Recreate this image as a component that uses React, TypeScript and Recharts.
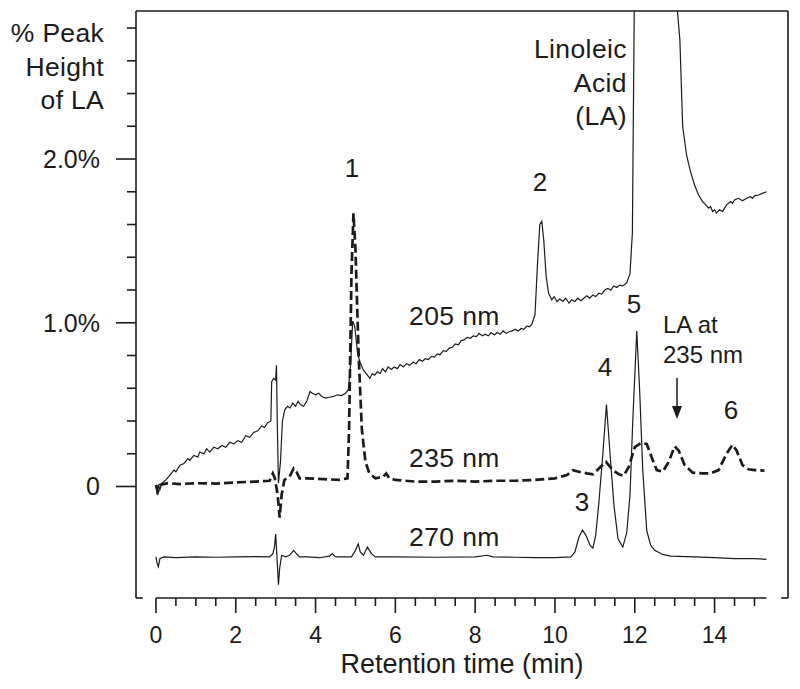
import React from 'react';
import { LineChart, Line, XAxis, YAxis, ReferenceLine } from 'recharts';

const ink = '#1b1b1b';
const font = '"Liberation Sans", Arial, Helvetica, sans-serif';

// plot frame limits (min, % of LA peak height)
const xMin = -0.5;
const xMax = 15.84;
const yMin = -0.681;
const yMax = 2.904;

const xTicks = [0, 0.5, 1, 1.5, 2, 2.5, 3, 3.5, 4, 4.5, 5, 5.5, 6, 6.5, 7, 7.5, 8, 8.5, 9, 9.5, 10, 10.5, 11, 11.5, 12, 12.5, 13, 13.5, 14, 14.5, 15];
const yTicks = [0, 0.2, 0.4, 0.6, 0.8, 1, 1.2, 1.4, 1.6, 1.8, 2, 2.2, 2.4, 2.6, 2.8];
const yTickLabels: Record<string, string> = { '0': '0', '1': '1.0%', '2': '2.0%' };

// [time, value]
const trace205: [number, number][] = [
  [0, 0], [0.03, -0.05], [0.06, 0.01], [0.1, -0.02], [0.15, 0.02], [0.25, 0.04], [0.35, 0.07],
  [0.45, 0.1], [0.5, 0.09], [0.6, 0.13], [0.7, 0.14], [0.8, 0.17], [0.85, 0.16], [0.95, 0.19],
  [1.05, 0.18], [1.1, 0.21], [1.2, 0.2], [1.27, 0.23], [1.35, 0.21], [1.45, 0.24], [1.55, 0.23],
  [1.65, 0.25], [1.75, 0.24], [1.85, 0.27], [1.95, 0.26], [2.05, 0.28], [2.15, 0.27], [2.25, 0.31],
  [2.35, 0.3], [2.45, 0.33], [2.55, 0.34], [2.65, 0.37], [2.72, 0.36], [2.8, 0.39], [2.88, 0.4],
  [2.9, 0.64], [2.95, 0.66], [3.0, 0.65], [3.02, 0.74], [3.04, 0.4], [3.07, 0.02], [3.12, 0.15],
  [3.17, 0.4], [3.23, 0.47], [3.3, 0.49], [3.36, 0.48], [3.43, 0.51], [3.5, 0.49], [3.56, 0.52],
  [3.62, 0.5], [3.7, 0.49], [3.78, 0.52], [3.86, 0.58], [3.92, 0.57], [4.0, 0.56], [4.08, 0.57],
  [4.15, 0.55], [4.25, 0.54], [4.35, 0.545], [4.45, 0.55], [4.55, 0.56], [4.65, 0.555], [4.75, 0.57],
  [4.82, 0.59], [4.88, 0.75], [4.93, 1.01], [4.98, 0.98], [5.05, 0.82], [5.11, 0.76], [5.2, 0.71],
  [5.3, 0.68], [5.36, 0.66], [5.42, 0.69], [5.48, 0.68], [5.55, 0.7], [5.62, 0.69], [5.68, 0.72],
  [5.75, 0.7], [5.82, 0.73], [5.9, 0.715], [5.97, 0.73], [6.05, 0.72], [6.12, 0.745], [6.2, 0.73],
  [6.28, 0.75], [6.36, 0.74], [6.45, 0.76], [6.52, 0.75], [6.6, 0.775], [6.68, 0.765], [6.75, 0.78],
  [6.83, 0.775], [6.9, 0.795], [6.98, 0.79], [7.05, 0.81], [7.12, 0.805], [7.2, 0.83], [7.28, 0.825],
  [7.35, 0.845], [7.43, 0.85], [7.5, 0.87], [7.58, 0.865], [7.65, 0.89], [7.72, 0.895], [7.8, 0.91],
  [7.88, 0.905], [7.95, 0.92], [8.03, 0.915], [8.1, 0.935], [8.18, 0.92], [8.25, 0.93], [8.33, 0.92],
  [8.4, 0.94], [8.48, 0.925], [8.55, 0.94], [8.63, 0.93], [8.7, 0.95], [8.78, 0.935], [8.85, 0.945],
  [8.93, 0.95], [9.0, 0.96], [9.08, 0.95], [9.15, 0.965], [9.22, 0.96], [9.3, 0.98], [9.36, 0.975],
  [9.42, 0.99], [9.5, 1.05], [9.56, 1.35], [9.62, 1.6], [9.67, 1.62], [9.72, 1.5], [9.78, 1.28],
  [9.84, 1.18], [9.92, 1.14], [9.98, 1.16], [10.05, 1.13], [10.12, 1.145], [10.2, 1.13], [10.27, 1.15],
  [10.35, 1.12], [10.42, 1.14], [10.5, 1.13], [10.57, 1.15], [10.65, 1.135], [10.72, 1.15],
  [10.8, 1.165], [10.87, 1.15], [10.95, 1.17], [11.02, 1.16], [11.1, 1.18], [11.17, 1.175],
  [11.25, 1.2], [11.32, 1.21], [11.4, 1.2], [11.47, 1.225], [11.55, 1.215], [11.62, 1.23],
  [11.7, 1.225], [11.8, 1.245], [11.88, 1.3], [11.94, 1.55], [12.0, 3.3], [12.5, 40],
  [13.0, 3.1], [13.13, 2.73], [13.2, 2.2], [13.3, 2.02], [13.4, 1.92], [13.5, 1.84], [13.6, 1.78],
  [13.7, 1.74], [13.78, 1.72], [13.85, 1.7], [13.9, 1.71], [13.95, 1.68], [14.0, 1.69], [14.05, 1.67],
  [14.12, 1.69], [14.2, 1.68], [14.3, 1.72], [14.4, 1.74], [14.45, 1.73], [14.5, 1.75], [14.6, 1.76],
  [14.7, 1.745], [14.8, 1.76], [14.9, 1.77], [14.95, 1.76], [15.0, 1.775], [15.1, 1.78],
  [15.2, 1.79], [15.3, 1.8],
];

const trace235: [number, number][] = [
  [0, 0.01], [0.05, -0.03], [0.1, 0.01], [0.3, 0.02], [0.6, 0.015], [1.0, 0.02], [1.5, 0.018],
  [2.0, 0.025], [2.5, 0.03], [2.85, 0.035], [2.93, 0.08], [2.98, 0.05], [3.05, -0.05], [3.1, -0.19],
  [3.15, -0.05], [3.22, 0.04], [3.35, 0.06], [3.45, 0.11], [3.52, 0.09], [3.6, 0.05], [3.8, 0.05],
  [4.2, 0.045], [4.6, 0.04], [4.8, 0.05], [4.84, 0.35], [4.9, 1.3], [4.95, 1.668], [5.0, 1.45],
  [5.08, 0.8], [5.16, 0.35], [5.25, 0.15], [5.35, 0.08], [5.5, 0.05], [5.7, 0.06], [5.77, 0.08],
  [5.85, 0.05], [6.0, 0.04], [6.5, 0.03], [7.0, 0.03], [7.5, 0.035], [8.0, 0.03], [8.5, 0.035],
  [9.0, 0.035], [9.5, 0.04], [10.0, 0.05], [10.3, 0.07], [10.45, 0.1], [10.6, 0.09], [10.8, 0.08],
  [10.95, 0.075], [11.1, 0.11], [11.28, 0.15], [11.45, 0.1], [11.6, 0.075], [11.72, 0.065],
  [11.85, 0.12], [12.0, 0.24], [12.15, 0.265], [12.3, 0.26], [12.42, 0.18], [12.55, 0.1],
  [12.7, 0.09], [12.85, 0.15], [13.0, 0.245], [13.1, 0.22], [13.25, 0.13], [13.45, 0.085],
  [13.7, 0.08], [13.9, 0.08], [14.1, 0.1], [14.3, 0.2], [14.45, 0.255], [14.55, 0.22], [14.7, 0.13],
  [14.85, 0.105], [15.0, 0.1], [15.25, 0.097],
];

const trace270: [number, number][] = [
  [0, -0.43], [0.03, -0.47], [0.06, -0.49], [0.1, -0.44], [0.2, -0.43], [0.5, -0.435], [1.0, -0.43],
  [1.5, -0.432], [2.0, -0.43], [2.5, -0.428], [2.85, -0.43], [2.93, -0.41], [2.97, -0.37], [3.0, -0.29],
  [3.03, -0.42], [3.07, -0.6], [3.1, -0.5], [3.15, -0.42], [3.25, -0.43], [3.35, -0.42], [3.45, -0.39],
  [3.52, -0.41], [3.6, -0.43], [3.8, -0.43], [4.1, -0.435], [4.35, -0.425], [4.42, -0.41], [4.5, -0.43],
  [4.9, -0.43], [5.0, -0.39], [5.07, -0.35], [5.12, -0.4], [5.2, -0.42], [5.3, -0.37], [5.4, -0.41],
  [5.5, -0.43], [6.0, -0.43], [7.0, -0.432], [8.0, -0.43], [8.3, -0.42], [8.45, -0.43], [9.0, -0.432],
  [9.5, -0.435], [10.0, -0.435], [10.4, -0.43], [10.5, -0.4], [10.6, -0.31], [10.69, -0.266],
  [10.78, -0.3], [10.88, -0.36], [10.95, -0.376], [11.02, -0.3], [11.1, -0.1], [11.2, 0.2],
  [11.29, 0.5], [11.38, 0.2], [11.48, -0.12], [11.58, -0.32], [11.7, -0.37], [11.8, -0.28],
  [11.88, -0.05], [11.95, 0.4], [12.05, 0.95], [12.12, 0.6], [12.2, 0.1], [12.3, -0.27], [12.4, -0.36],
  [12.5, -0.39], [12.7, -0.415], [12.9, -0.425], [13.5, -0.43], [14.0, -0.435], [14.5, -0.44],
  [15.0, -0.44], [15.3, -0.445],
];

const toRows = (pts: [number, number][]) => pts.map(([t, v]) => ({ t, v }));

const XTick = ({ x, y, payload }: any) => {
  const v = payload.value;
  const major = Math.abs(v % 2) < 1e-6;
  return (
    <g>
      <line x1={x} x2={x} y1={y} y2={y + (major ? 15 : 8)} stroke={ink} strokeWidth={1.6} />
      {major && (
        <text x={x} y={y + 45} textAnchor="middle" fontSize={23} fontFamily={font} fill={ink}>
          {v}
        </text>
      )}
    </g>
  );
};

const YTick = ({ x, y, payload }: any) => {
  const v = payload.value;
  const major = Math.abs(v - Math.round(v)) < 1e-6;
  return (
    <g>
      <line x1={x - (major ? 20 : 9)} x2={x} y1={y} y2={y} stroke={ink} strokeWidth={1.6} />
      {major && (
        <text x={x - 36} y={y + 9} textAnchor="end" fontSize={25} fontFamily={font} fill={ink}>
          {yTickLabels[String(Math.round(v))]}
        </text>
      )}
    </g>
  );
};

const txt = { fontFamily: font, fill: ink } as const;

export default function App() {
  return (
    <div style={{ position: 'relative', width: 800, height: 689, margin: -8, background: '#fff' }}>
      <LineChart width={800} height={689} margin={{ top: 11, right: 12, left: 0, bottom: 0 }}>
        <XAxis
          type="number"
          dataKey="t"
          domain={[xMin, xMax]}
          allowDataOverflow
          ticks={xTicks}
          interval={0}
          height={91}
          axisLine={false}
          tickLine={false}
          tickSize={0}
          tickMargin={0}
          tick={<XTick />}
        />
        <YAxis
          type="number"
          domain={[yMin, yMax]}
          allowDataOverflow
          ticks={yTicks}
          interval={0}
          width={136}
          axisLine={{ stroke: ink, strokeWidth: 1.6 }}
          tickLine={false}
          tickSize={0}
          tickMargin={0}
          tick={<YTick />}
        />
        {/* frame: top, right, bottom axis line and corner stubs */}
        <ReferenceLine y={yMax} stroke={ink} strokeWidth={1.6} ifOverflow="visible" />
        <ReferenceLine x={xMax} stroke={ink} strokeWidth={1.6} ifOverflow="visible" />
        <ReferenceLine segment={[{ x: 0, y: yMin }, { x: 15.3, y: yMin }]} stroke={ink} strokeWidth={1.6} ifOverflow="visible" />
        <ReferenceLine segment={[{ x: xMin, y: yMin }, { x: -0.33, y: yMin }]} stroke={ink} strokeWidth={1.6} ifOverflow="visible" />
        <ReferenceLine segment={[{ x: 15.67, y: yMin }, { x: xMax, y: yMin }]} stroke={ink} strokeWidth={1.6} ifOverflow="visible" />

        <Line data={toRows(trace270)} dataKey="v" type="linear" stroke={ink} strokeWidth={1.2} dot={false} activeDot={false} isAnimationActive={false} />
        <Line data={toRows(trace205)} dataKey="v" type="linear" stroke={ink} strokeWidth={1.2} dot={false} activeDot={false} isAnimationActive={false} />
        <Line data={toRows(trace235)} dataKey="v" type="linear" stroke={ink} strokeWidth={2.7} strokeDasharray="9 4" dot={false} activeDot={false} isAnimationActive={false} />
      </LineChart>

      <svg width={800} height={689} style={{ position: 'absolute', left: 0, top: 0, pointerEvents: 'none' }}>
        <g {...txt} fontSize={26.5} textAnchor="end" letterSpacing={0.3}>
          <text x={104} y={42}>% Peak</text>
          <text x={104} y={76}>Height</text>
          <text x={104} y={109}>of LA</text>
        </g>
        <g {...txt} fontSize={26.5} textAnchor="end" letterSpacing={0.4}>
          <text x={627} y={58}>Linoleic</text>
          <text x={627} y={92}>Acid</text>
          <text x={627} y={125}>(LA)</text>
        </g>
        <g {...txt} fontSize={26} textAnchor="middle">
          <text x={352} y={177}>1</text>
          <text x={540} y={191}>2</text>
          <text x={582} y={511}>3</text>
          <text x={605} y={376}>4</text>
          <text x={634} y={313}>5</text>
          <text x={731} y={419}>6</text>
        </g>
        <g {...txt} fontSize={24}>
          <text x={663} y={333}>LA at</text>
          <text x={663} y={363}>235 nm</text>
        </g>
        <g {...txt} fontSize={26.5} letterSpacing={0.4}>
          <text x={409} y={325}>205 nm</text>
          <text x={409} y={467}>235 nm</text>
          <text x={409} y={546}>270 nm</text>
        </g>
        <line x1={677} x2={677} y1={378} y2={410} stroke={ink} strokeWidth={1.5} />
        <polygon points="672,406 682,406 677,419" fill={ink} />
        <text x={462} y={673} textAnchor="middle" fontSize={27} {...txt}>
          Retention time (min)
        </text>
      </svg>
    </div>
  );
}
